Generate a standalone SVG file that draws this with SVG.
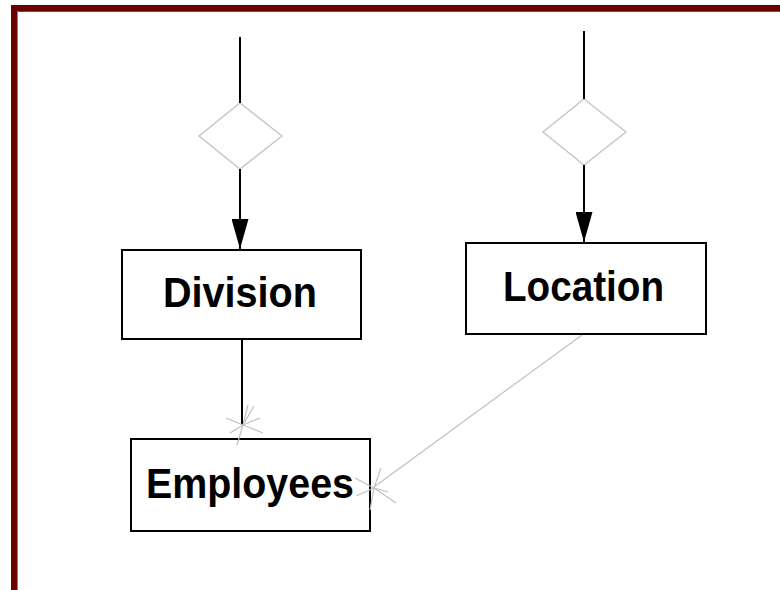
<svg xmlns="http://www.w3.org/2000/svg" width="780" height="590" viewBox="0 0 780 590">
<style>
.box{fill:#fff;stroke:#000;stroke-width:2}
.lbl{font-family:"Liberation Sans",Arial,sans-serif;font-weight:bold;font-size:43px;fill:#000}
.dia{fill:#fff;stroke:#c8c8c8;stroke-width:1.5}
.rel{stroke:#000;stroke-width:2;fill:none}
.lt{stroke:#c0c0c0;stroke-width:1.2;fill:none}
</style>
<defs>
<marker id="arr" viewBox="0 0 30 17" refX="30" refY="8.5" markerWidth="30" markerHeight="17" markerUnits="userSpaceOnUse" orient="auto">
<path d="M0,0 L30,8.5 L0,17 Z" fill="#000"/>
</marker>
</defs>
<rect width="780" height="590" fill="#fff"/>
<g id="frame">
<rect x="11" y="5" width="769" height="6" fill="#6b0000"/>
<rect x="11" y="5" width="6" height="585" fill="#6b0000"/>
<line x1="17" y1="11.5" x2="780" y2="11.5" stroke="#555" stroke-width="1"/>
<line x1="17.5" y1="11" x2="17.5" y2="590" stroke="#888" stroke-width="1"/>
</g>
<g id="diamond-division"><polygon class="dia" points="240,103 282,136 240,169 199,136"/></g>
<g id="diamond-location"><polygon class="dia" points="584,99 626,132 584,165 543,132"/></g>
<g id="division">
<rect class="box" x="122" y="250" width="239" height="89"/>
<text class="lbl" x="163" y="307" textLength="154" lengthAdjust="spacingAndGlyphs">Division</text>
</g>
<g id="location">
<rect class="box" x="466" y="243" width="240" height="91"/>
<text class="lbl" x="503" y="301" textLength="161" lengthAdjust="spacingAndGlyphs">Location</text>
</g>
<g id="employees">
<rect class="box" x="131" y="439" width="239" height="92"/>
<text class="lbl" x="146" y="498" textLength="208" lengthAdjust="spacingAndGlyphs">Employees</text>
</g>
<g id="connectors">
<line class="rel" x1="240" y1="37" x2="240" y2="103"/>
<line class="rel" x1="240" y1="169" x2="240" y2="249" marker-end="url(#arr)"/>
<line class="rel" x1="584" y1="31" x2="584" y2="99"/>
<line class="rel" x1="584" y1="165" x2="584" y2="242" marker-end="url(#arr)"/>
<line class="rel" x1="242" y1="339" x2="242" y2="425"/>
<line class="lt" x1="582" y1="335" x2="374" y2="487"/>
<g class="lt">
<line x1="243" y1="425" x2="226" y2="418"/>
<line x1="243" y1="425" x2="230" y2="433"/>
<line x1="243" y1="425" x2="237" y2="445"/>
<line x1="243" y1="425" x2="254" y2="406"/>
<line x1="243" y1="425" x2="260" y2="418"/>
<line x1="243" y1="425" x2="263" y2="433"/>
<line x1="243" y1="425" x2="248" y2="405"/>
</g>
<g class="lt">
<line x1="374" y1="488" x2="355" y2="478"/>
<line x1="374" y1="488" x2="356" y2="496"/>
<line x1="374" y1="488" x2="396" y2="503"/>
<line x1="374" y1="488" x2="388" y2="492"/>
<line x1="374" y1="488" x2="381" y2="468"/>
<line x1="374" y1="488" x2="370" y2="510"/>
</g>
</g>
</svg>
